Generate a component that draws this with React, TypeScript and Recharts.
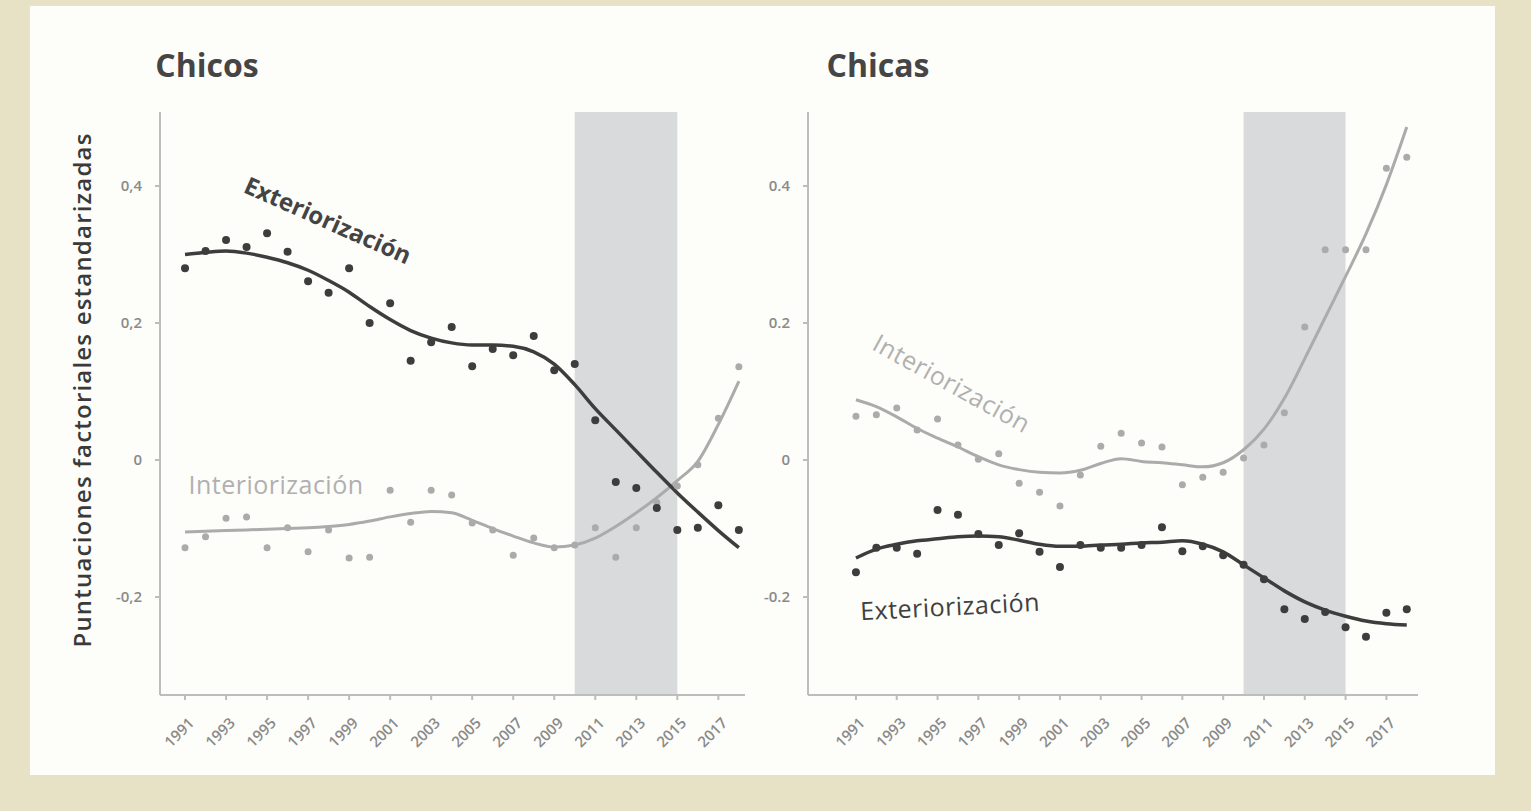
import {
  ComposedChart,
  Line,
  ReferenceArea,
  XAxis,
  YAxis,
} from "recharts";

const years = [
  1991, 1992, 1993, 1994, 1995, 1996, 1997, 1998, 1999, 2000, 2001, 2002, 2003, 2004,
  2005, 2006, 2007, 2008, 2009, 2010, 2011, 2012, 2013, 2014, 2015, 2016, 2017, 2018,
];
const yearTicks = [1991, 1993, 1995, 1997, 1999, 2001, 2003, 2005, 2007, 2009, 2011, 2013, 2015, 2017];
const valueTicks = [-0.2, 0, 0.2, 0.4];

// Chicos
const boysExtPoints = [
  0.28, 0.305, 0.321, 0.311, 0.331, 0.304, 0.261, 0.244, 0.28, 0.2, 0.229, 0.145, 0.172, 0.194,
  0.137, 0.162, 0.153, 0.181, 0.131, 0.14, 0.058, -0.032, -0.041, -0.07, -0.102, -0.099, -0.066, -0.102,
];
const boysExtTrend = [
  0.3, 0.303, 0.305, 0.302, 0.296, 0.288, 0.277, 0.262, 0.245, 0.224, 0.205, 0.189, 0.178, 0.171,
  0.168, 0.168, 0.166, 0.158, 0.14, 0.11, 0.075, 0.044, 0.013, -0.018, -0.048, -0.076, -0.103, -0.128,
];
const boysIntPoints = [
  -0.128, -0.112, -0.085, -0.083, -0.128, -0.099, -0.134, -0.102, -0.143, -0.142, -0.044, -0.091, -0.044, -0.051,
  -0.092, -0.102, -0.139, -0.114, -0.128, -0.124, -0.099, -0.142, -0.099, -0.062, -0.038, -0.007, 0.061, 0.136,
];
const boysIntTrend = [
  -0.105, -0.104, -0.103, -0.102, -0.101, -0.1, -0.099, -0.097, -0.094, -0.089, -0.083, -0.078, -0.075, -0.077,
  -0.088, -0.1, -0.111, -0.121, -0.127, -0.124, -0.114, -0.097, -0.077, -0.055, -0.03, -0.002, 0.052, 0.115,
];

// Chicas
const girlsIntPoints = [
  0.064, 0.066, 0.076, 0.044, 0.06, 0.022, 0.001, 0.009, -0.034, -0.047, -0.067, -0.022, 0.02, 0.039,
  0.025, 0.019, -0.036, -0.025, -0.018, 0.003, 0.022, 0.069, 0.194, 0.307, 0.307, 0.307, 0.426, 0.442,
];
const girlsIntTrend = [
  0.088, 0.078, 0.063, 0.046, 0.032, 0.019, 0.005, -0.007, -0.014, -0.018, -0.019, -0.015, -0.005, 0.002,
  -0.002, -0.004, -0.007, -0.01, -0.004, 0.015, 0.045, 0.09, 0.148, 0.208, 0.268, 0.33, 0.402, 0.486,
];
const girlsExtPoints = [
  -0.164, -0.128, -0.128, -0.137, -0.073, -0.08, -0.108, -0.124, -0.107, -0.134, -0.156, -0.124, -0.128, -0.128,
  -0.124, -0.098, -0.133, -0.126, -0.139, -0.153, -0.174, -0.218, -0.232, -0.222, -0.244, -0.258, -0.223, -0.218,
];
const girlsExtTrend = [
  -0.143, -0.13, -0.123, -0.118, -0.115, -0.112, -0.111, -0.112, -0.117, -0.123, -0.126, -0.126, -0.124, -0.123,
  -0.121, -0.12, -0.118, -0.123, -0.134, -0.153, -0.172, -0.191, -0.207, -0.219, -0.228, -0.235, -0.239, -0.241,
];

const DARK = "#3d3d3d";
const LIGHT = "#ababab";
const AXIS = "#bdbdbd";
const FONT = "'Open Sans', 'Noto Sans', sans-serif";

type Row = { year: number; extP: number; extT: number; intP: number; intT: number };

const makeRows = (ep: number[], et: number[], ip: number[], it: number[]): Row[] =>
  years.map((year, i) => ({ year, extP: ep[i], extT: et[i], intP: ip[i], intT: it[i] }));

const boysRows = makeRows(boysExtPoints, boysExtTrend, boysIntPoints, boysIntTrend);
const girlsRows = makeRows(girlsExtPoints, girlsExtTrend, girlsIntPoints, girlsIntTrend);

const YearTick = (props: any) => {
  const { x, y, payload } = props;
  const px = x + 10;
  const py = y + 22;
  return (
    <text
      x={px}
      y={py}
      transform={`rotate(-45 ${px} ${py})`}
      textAnchor="end"
      fontSize={15}
      fontFamily={FONT}
      fontWeight={600}
      fill="#8a8a8a"
    >
      {payload.value}
    </text>
  );
};

type PanelProps = {
  rows: Row[];
  left: number;
  width: number;
  marginLeft: number;
  marginRight: number;
  xDomain: [number, number];
  decimal: string;
};

function Panel({ rows, left, width, marginLeft, marginRight, xDomain, decimal }: PanelProps) {
  const fmt = (v: number) => (v === 0 ? "0" : v.toFixed(1).replace(".", decimal));
  return (
    <div style={{ position: "absolute", left, top: 0 }}>
      <ComposedChart
        width={width}
        height={780}
        data={rows}
        margin={{ top: 112, right: marginRight, bottom: 25, left: marginLeft }}
      >
        <XAxis
          dataKey="year"
          type="number"
          domain={xDomain}
          ticks={yearTicks}
          allowDataOverflow
          height={60}
          stroke={AXIS}
          strokeWidth={2}
          tickSize={5}
          interval={0}
          tick={<YearTick />}
        />
        <YAxis
          type="number"
          domain={[-0.343, 0.508]}
          ticks={valueTicks}
          allowDataOverflow
          width={60}
          stroke={AXIS}
          strokeWidth={2}
          tickSize={5}
          tickMargin={13}
          tickFormatter={fmt}
          tick={{ fontSize: 15, fill: "#8a8a8a", fontFamily: FONT, fontWeight: 600 }}
        />
        <ReferenceArea
          x1={2010}
          x2={2015}
          y1={-0.343}
          y2={0.508}
          fill="#c6c8cc"
          fillOpacity={0.65}
          stroke="none"
          ifOverflow="hidden"
        />
        <Line
          dataKey="intP"
          stroke="none"
          dot={{ r: 3.5, fill: LIGHT, stroke: "none" }}
          activeDot={false}
          isAnimationActive={false}
        />
        <Line
          dataKey="extP"
          stroke="none"
          dot={{ r: 4, fill: DARK, stroke: "none" }}
          activeDot={false}
          isAnimationActive={false}
        />
        <Line
          type="monotone"
          dataKey="intT"
          stroke={LIGHT}
          strokeWidth={3}
          dot={false}
          activeDot={false}
          isAnimationActive={false}
        />
        <Line
          type="monotone"
          dataKey="extT"
          stroke={DARK}
          strokeWidth={3.5}
          dot={false}
          activeDot={false}
          isAnimationActive={false}
        />
      </ComposedChart>
    </div>
  );
}

const label = (
  text: string,
  cx: number,
  cy: number,
  angle: number,
  size: number,
  color: string,
  weight: number,
  spacing = 0,
) => (
  <div
    style={{
      position: "absolute",
      left: cx,
      top: cy,
      transform: `translate(-50%, -50%) rotate(${angle}deg)`,
      fontFamily: FONT,
      fontSize: size,
      fontWeight: weight,
      letterSpacing: spacing,
      color,
      whiteSpace: "nowrap",
      lineHeight: 1,
    }}
  >
    {text}
  </div>
);

export default function App() {
  return (
    <div
      style={{
        position: "fixed",
        left: 0,
        top: 0,
        width: 1531,
        height: 811,
        background: "#e7e1c6",
        overflow: "hidden",
      }}
    >
      <div
        style={{
          position: "absolute",
          left: 30,
          top: 6,
          width: 1465,
          height: 769,
          background: "#fdfdf9",
        }}
      />
      <Panel
        rows={boysRows}
        left={0}
        width={760}
        marginLeft={100}
        marginRight={15}
        xDomain={[1989.78, 2018.3]}
        decimal=","
      />
      <Panel
        rows={girlsRows}
        left={700}
        width={730}
        marginLeft={48}
        marginRight={12}
        xDomain={[1988.65, 2018.55]}
        decimal="."
      />
      {label("Chicos", 207, 65, 0, 32, "#454545", 700)}
      {label("Chicas", 878, 65, 0, 32, "#454545", 700)}
      {label("Puntuaciones factoriales estandarizadas", 82, 390, -90, 24, "#3a3a3a", 600, 1.2)}
      {label("Exteriorización", 328, 220, 24, 24, "#444444", 700)}
      {label("Interiorización", 276, 484, 0, 25, "#b0b0b0", 400, 0.5)}
      {label("Interiorización", 952, 383, 29, 25, "#b0b0b0", 400, 0.5)}
      {label("Exteriorización", 950, 606, -3, 25, "#404040", 400, 0.5)}
    </div>
  );
}
